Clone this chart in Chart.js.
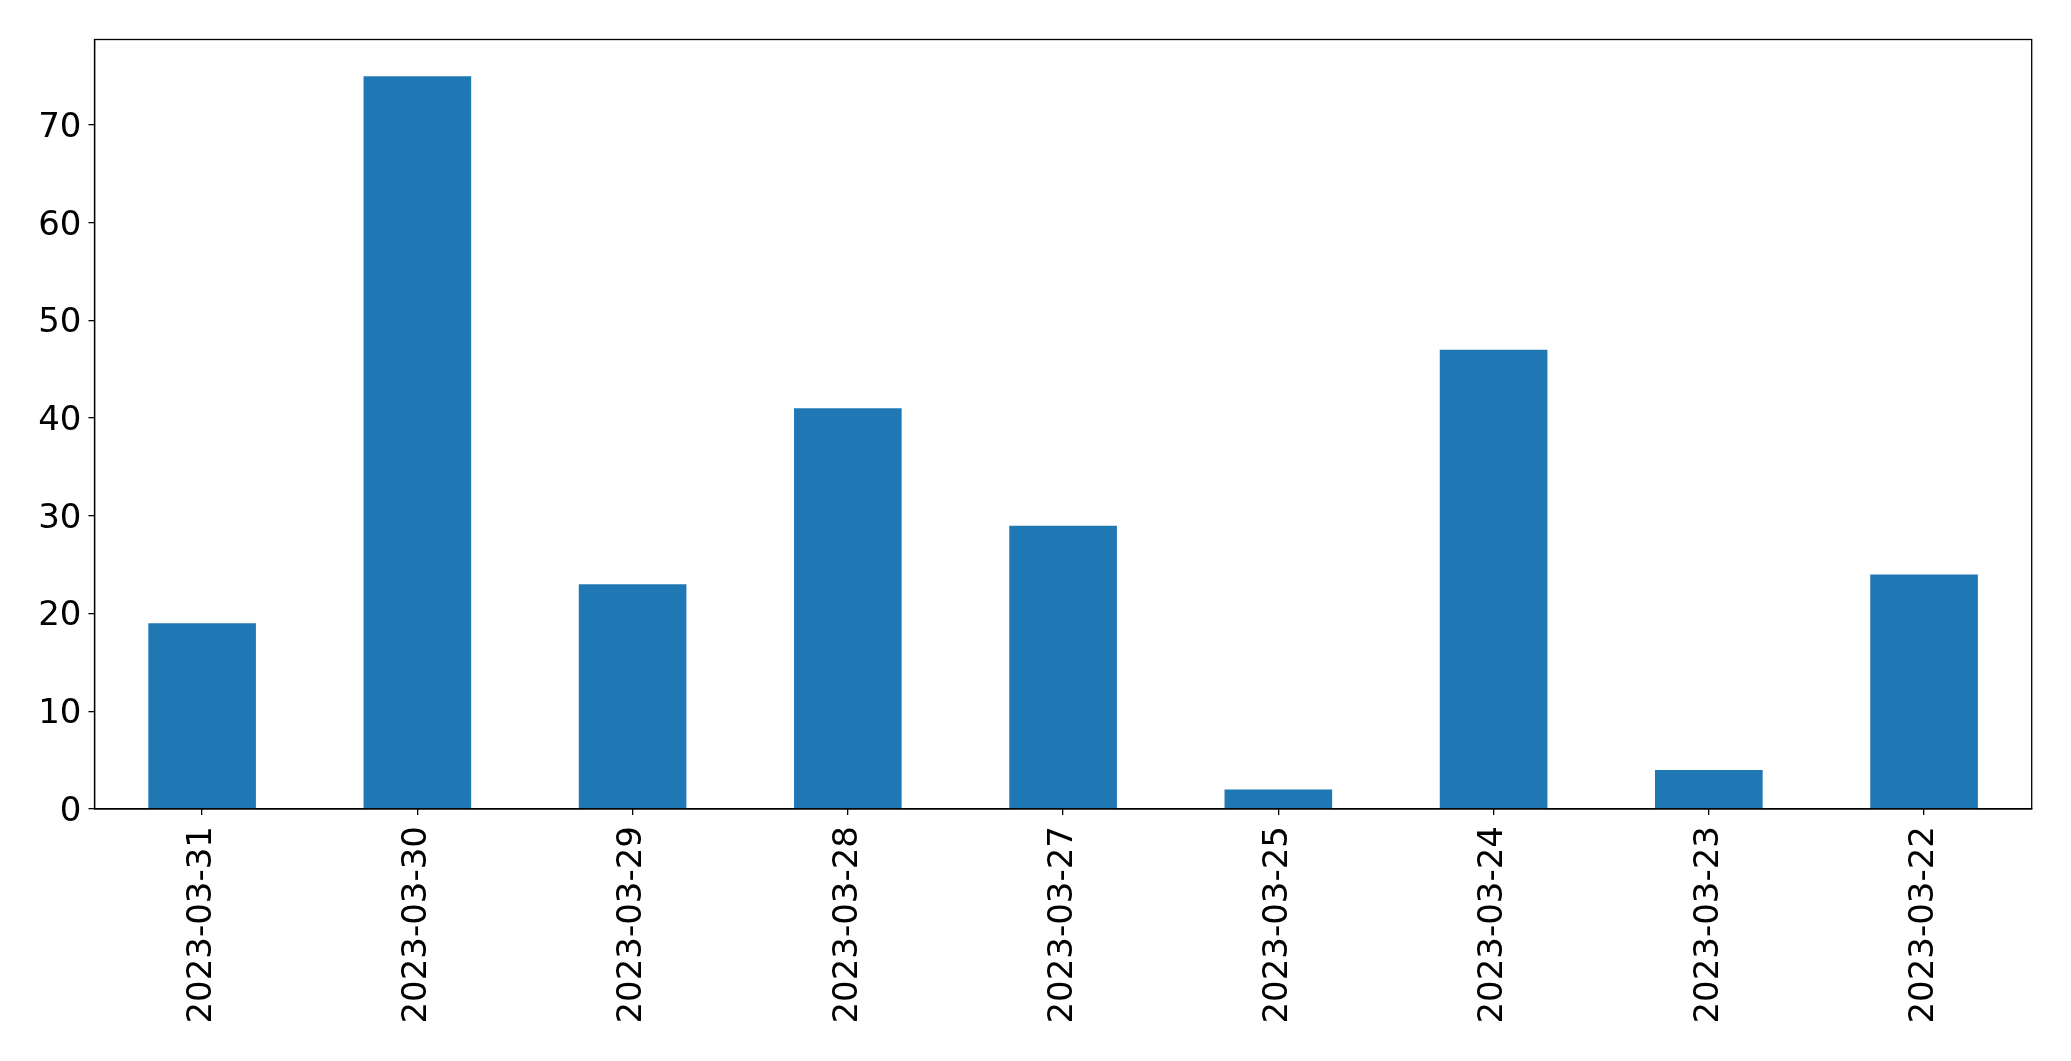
<!DOCTYPE html>
<html>
<head>
<meta charset="utf-8">
<script src="https://cdn.jsdelivr.net/npm/chart.js@4.4.0/dist/chart.umd.min.js"></script>
<style>
  html, body { margin: 0; padding: 0; background: #fff; }
  #wrap { width: 2071px; height: 1061px; position: relative; }
</style>
</head>
<body>
<div id="wrap"><canvas id="c" width="2071" height="1061"></canvas></div>
<script>
const categories = ["2023-03-31", "2023-03-30", "2023-03-29", "2023-03-28", "2023-03-27", "2023-03-25", "2023-03-24", "2023-03-23", "2023-03-22"];
const values = [19, 75, 23, 41, 29, 2, 47, 4, 24];
const yTicks = [0, 10, 20, 30, 40, 50, 60, 70];
const yMax = 78.75;

const FONT = { family: "'DejaVu Sans', sans-serif", size: 34 };

const frame = {
  id: 'frame',
  afterDraw(chart) {
    const { ctx, chartArea: a } = chart;
    ctx.save();
    ctx.strokeStyle = '#000';
    ctx.lineWidth = 1.3;
    ctx.strokeRect(a.left, a.top, a.right - a.left, a.bottom - a.top);
    ctx.restore();
  }
};

new Chart(document.getElementById('c'), {
  type: 'bar',
  data: {
    labels: categories,
    datasets: [{
      data: values,
      backgroundColor: '#1f77b4',
      borderWidth: 0,
      barPercentage: 0.5,
      categoryPercentage: 1.0
    }]
  },
  options: {
    responsive: false,
    animation: false,
    devicePixelRatio: 1,
    layout: { padding: { top: 39.5, right: 39.3, left: 0, bottom: 0 } },
    plugins: { legend: { display: false }, tooltip: { enabled: false } },
    scales: {
      x: {
        grid: { display: true, offset: false, drawOnChartArea: false, drawTicks: true, tickLength: 6, color: '#000', lineWidth: 1.3 },
        border: { display: true, color: '#000', width: 1.3 },
        ticks: {
          color: '#000', font: FONT, minRotation: 90, maxRotation: 90, autoSkip: false, padding: 11
        },
        afterFit(scale) { scale.height = 1061 - 809; }
      },
      y: {
        min: 0,
        max: yMax,
        grid: { display: true, drawOnChartArea: false, drawTicks: true, tickLength: 6, color: '#000', lineWidth: 1.3 },
        border: { display: true, color: '#000', width: 1.3 },
        ticks: { color: '#000', font: FONT, padding: 7, labelOffset: 3 },
        afterBuildTicks(scale) { scale.ticks = yTicks.map(v => ({ value: v })); },
        afterFit(scale) { scale.width = 94.5; }
      }
    }
  },
  plugins: [frame]
});
</script>
</body>
</html>
